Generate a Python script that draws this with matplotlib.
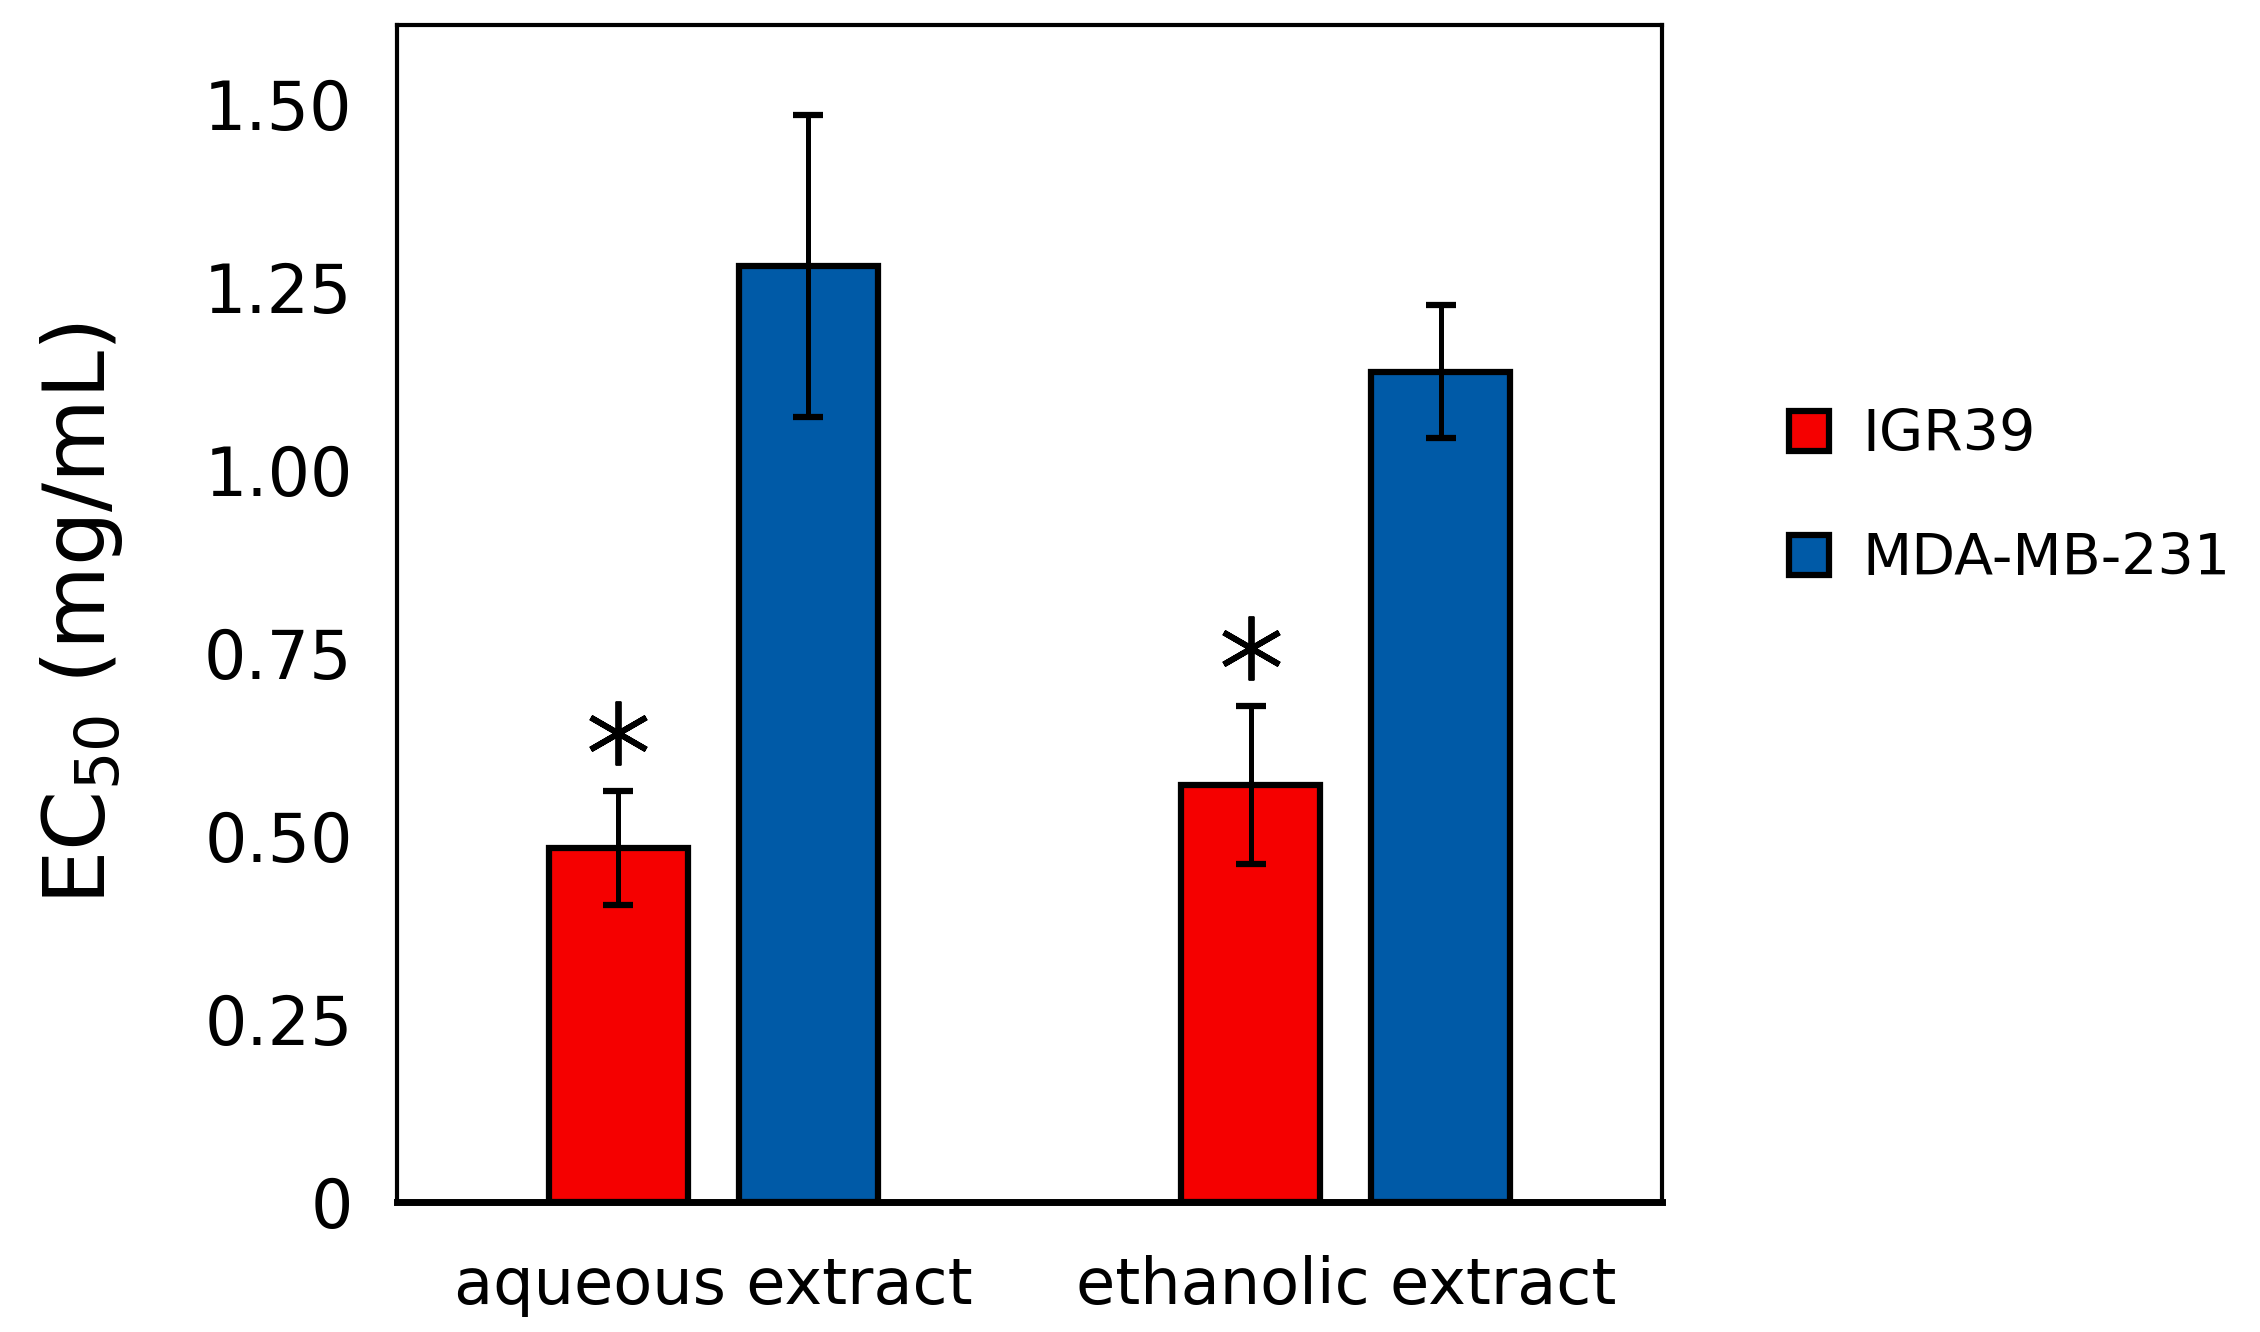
import numpy as np
import matplotlib.pyplot as plt

extracts = ['aqueous extract', 'ethanolic extract']
cell_lines = ['IGR39', 'MDA-MB-231']
igr39_ec50 = [0.484, 0.570]
igr39_err = [0.078, 0.108]
mda_ec50 = [1.278, 1.134]
mda_err = [0.206, 0.091]
significant = [True, True]
y_ticks = [0, 0.25, 0.50, 0.75, 1.00, 1.25, 1.50]
y_tick_labels = ['0', '0.25', '0.50', '0.75', '1.00', '1.25', '1.50']

plt.rcParams['font.family'] = ['DejaVu Sans']
plt.rcParams['mathtext.default'] = 'regular'

fig = plt.figure(figsize=(22.6, 13.32), dpi=100)
ax = fig.add_axes([0.1757, 0.0976, 0.5597, 0.8833])

x = np.arange(len(extracts))
width = 0.22
offset = 0.15
err_kw = dict(elinewidth=3.6, capsize=11, capthick=4.5, ecolor='black')

ax.bar(x - offset, igr39_ec50, width, yerr=igr39_err, color='#F50000',
       edgecolor='black', linewidth=4.5, label=cell_lines[0], error_kw=err_kw, zorder=2)
ax.bar(x + offset, mda_ec50, width, yerr=mda_err, color='#005AA7',
       edgecolor='black', linewidth=4.5, label=cell_lines[1], error_kw=err_kw, zorder=2)

# significance stars above IGR39 bars
for i, sig in enumerate(significant):
    if sig:
        ax.plot(x[i] - offset, igr39_ec50[i] + igr39_err[i] + 0.078, marker=(6, 2, 0),
                markersize=46, markeredgewidth=4.2, color='black', zorder=3)

ax.set_xlim(-0.5, 1.5)
ax.set_ylim(0, 1.607)
ax.set_xticks(x)
ax.set_xticklabels(extracts, fontsize=46)
ax.set_yticks(y_ticks)
ax.set_yticklabels(y_tick_labels, fontsize=48)
ax.tick_params(axis='both', length=0)
ax.tick_params(axis='x', pad=38)
ax.tick_params(axis='y', pad=32)

ax.set_ylabel('EC$_{50}$ (mg/mL)', fontsize=62)
ax.yaxis.set_label_coords(-0.215, 0.5)

for side in ['left', 'top', 'right']:
    ax.spines[side].set_linewidth(3)
ax.spines['bottom'].set_linewidth(5)

ax.legend(loc='center left', bbox_to_anchor=(0.7916, 0.6265), bbox_transform=fig.transFigure,
          frameon=False, fontsize=41, handlelength=0.7, handleheight=0.7,
          handletextpad=0.58, labelspacing=1.2, borderpad=0, borderaxespad=0)

plt.savefig('out.png', dpi=100)
